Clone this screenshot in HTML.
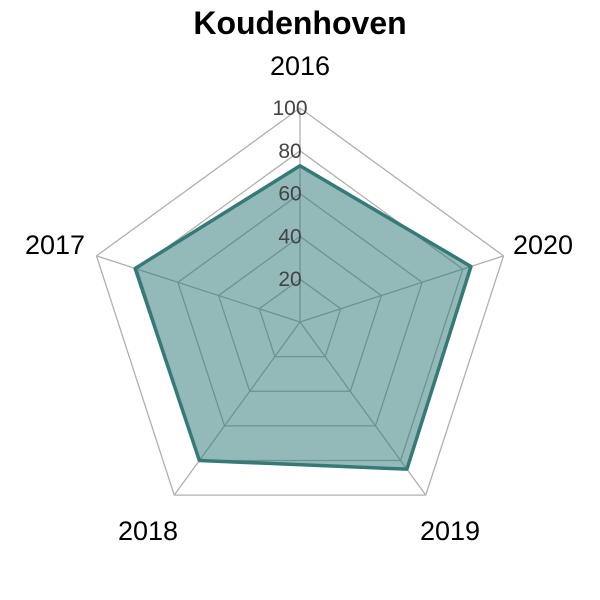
<!DOCTYPE html>
<html><head><meta charset="utf-8"><style>body{margin:0;background:#fff}svg{display:block}</style></head>
<body>
<svg id="chart" width="600" height="600" xmlns="http://www.w3.org/2000/svg" font-family="Liberation Sans, sans-serif">
<text x="300" y="34" text-anchor="middle" font-size="32" font-weight="bold">Koudenhoven</text>
<g id="grid"></g><g id="series"></g><g id="ticks"></g><g id="labels"></g>
</svg>
<script>
const categories = ["2016","2020","2019","2018","2017"];
const values = [73, 84, 85, 80, 81];
const tickLabels = [20, 40, 60, 80, 100];
const maxVal = 100;
const cx = 300, cy = 322, R = 214;
const NS = "http://www.w3.org/2000/svg";
function pt(i, v){ const a = -Math.PI/2 + i*2*Math.PI/categories.length; const r = v/maxVal*R; return [cx + r*Math.cos(a), cy + r*Math.sin(a)]; }
function mk(tag, attrs, parent){ const e = document.createElementNS(NS, tag); for (const k in attrs) e.setAttribute(k, attrs[k]); document.getElementById(parent).appendChild(e); return e; }
tickLabels.forEach((t, j) => {
  const p = mk("polygon", {points: categories.map((c,i)=>pt(i,t).join(",")).join(" "), fill:"none", stroke:"#b0b0b0", "stroke-width":1.3}, "grid");
  
  
});
categories.forEach((c,i)=>{
  const e = pt(i, maxVal);
  const l = mk("line", {x1:cx, y1:cy, x2:e[0], y2:e[1], stroke:"#b0b0b0", "stroke-width":1.3}, "grid");
  
  
});
const poly = mk("polygon", {points: values.map((v,i)=>pt(i,v).join(",")).join(" "), fill:"rgba(40,115,115,0.5)", stroke:"#357a77", "stroke-width":3.5, "stroke-linejoin":"round"}, "series");


tickLabels.forEach(t=>{
  const y = cy - t/maxVal*R;
  const tx = mk("text", {x:290, y:y+7, "text-anchor":"middle", "font-size":21, fill:"#444"}, "ticks");
  tx.textContent = t;
  
  
});
const labelPos = [[300,75,"middle"],[543,254,"middle"],[450,540,"middle"],[148,540,"middle"],[55,254,"middle"]];
categories.forEach((c,i)=>{
  const p = labelPos[i];
  const tx = mk("text", {x:p[0], y:p[1], "text-anchor":p[2], "font-size":27, fill:"#000"}, "labels");
  tx.textContent = c;
  
  
});
</script>
</body></html>
